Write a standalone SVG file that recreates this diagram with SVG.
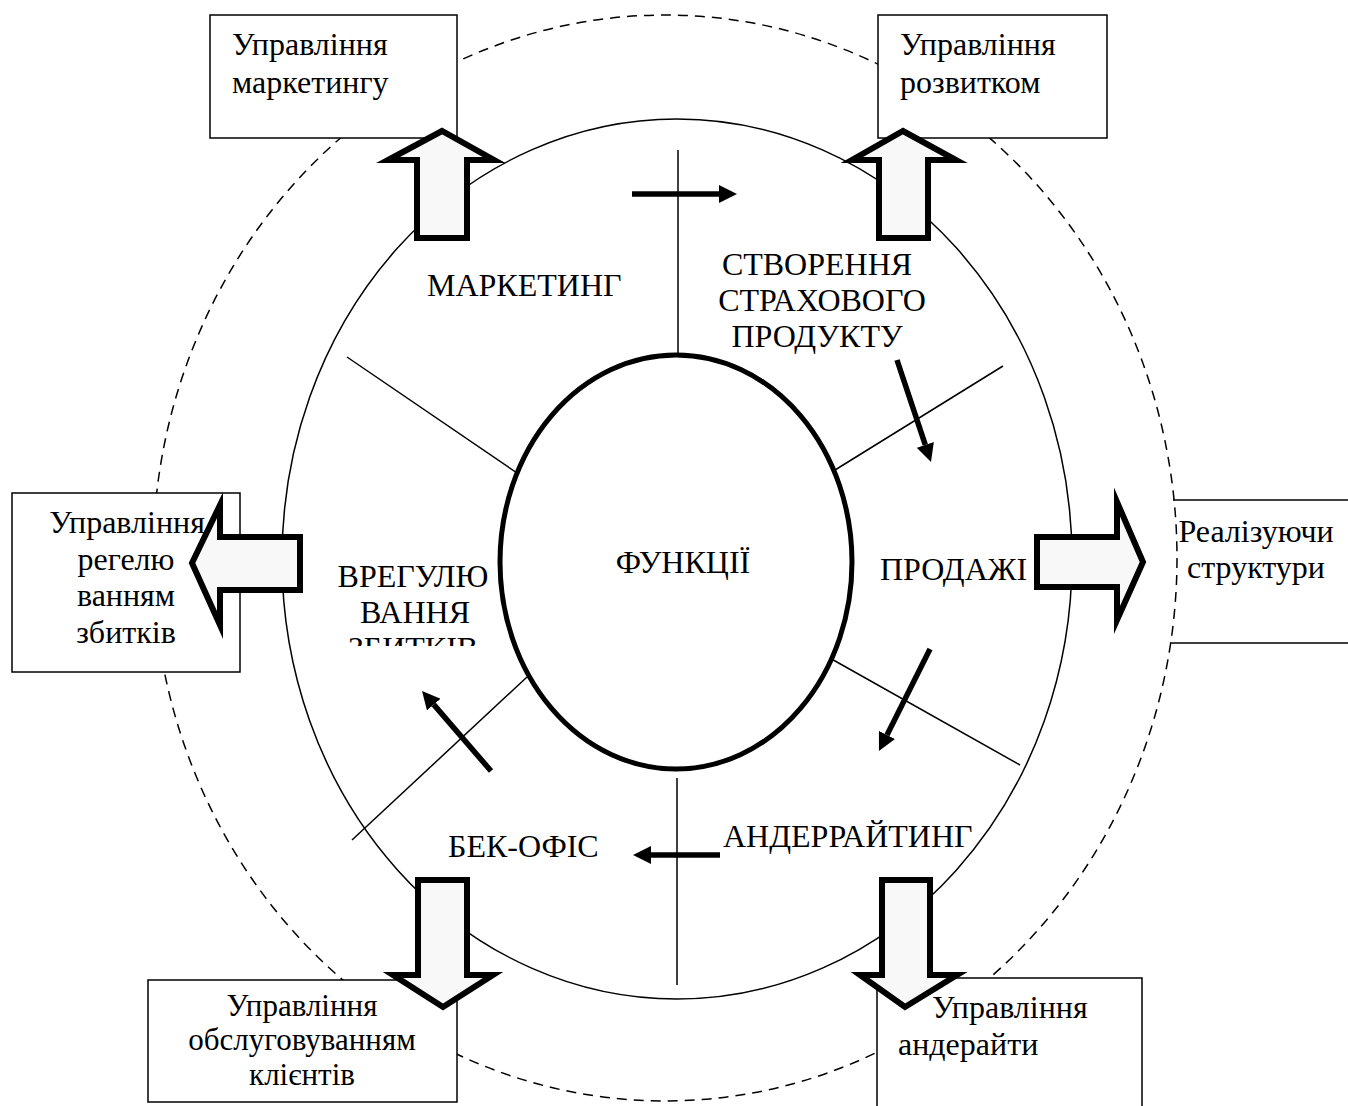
<svg xmlns="http://www.w3.org/2000/svg" width="1348" height="1106" viewBox="0 0 1348 1106">
<style>
text{font-family:"Liberation Serif","Times New Roman",serif;font-size:32px;fill:#000}
.c{text-anchor:middle}
.box{fill:#fff;stroke:#000;stroke-width:1.5}
.blk{fill:#f8f8f8;stroke:#000;stroke-width:6;stroke-linejoin:miter;stroke-miterlimit:10}
.rad{stroke:#000;stroke-width:1.5;fill:none}
.sa{stroke:#000;stroke-width:5.5;fill:none;marker-end:url(#ah)}
</style>
<defs>
<marker id="ah" markerUnits="userSpaceOnUse" markerWidth="18" markerHeight="18" viewBox="0 0 18 18" refX="0" refY="9" orient="auto">
<path d="M0,0 L18,9 L0,18 Z" fill="#000"/>
</marker>
<clipPath id="clipV"><rect x="300" y="540" width="220" height="106"/></clipPath>
</defs>
<rect width="1348" height="1106" fill="#fff"/>
<g id="outer-ring"><ellipse cx="665" cy="558" rx="512" ry="543" fill="none" stroke="#000" stroke-width="1.5" stroke-dasharray="10,7"/></g>
<g id="inner-ring"><ellipse cx="677" cy="559" rx="395" ry="440" fill="none" stroke="#000" stroke-width="1.5"/></g>
<g id="connectors">
<line class="rad" x1="678" y1="150" x2="678" y2="355"/>
<line class="rad" x1="347" y1="357" x2="520" y2="475"/>
<line class="rad" x1="1003" y1="366" x2="835" y2="470"/>
<line class="rad" x1="828" y1="657" x2="1020" y2="765"/>
<line class="rad" x1="352" y1="840" x2="527" y2="677"/>
<line class="rad" x1="677" y1="778" x2="677" y2="985"/>
<line class="sa" x1="632" y1="194" x2="719" y2="194"/>
<line class="sa" x1="897" y1="360" x2="925.3" y2="444.9"/>
<line class="sa" x1="930" y1="649" x2="887" y2="734.9"/>
<line class="sa" x1="491" y1="771" x2="433.8" y2="704.6"/>
<line class="sa" x1="720" y1="855" x2="651" y2="855"/>
</g>
<g id="functions"><ellipse cx="676" cy="562" rx="176" ry="207" fill="#fff" stroke="#000" stroke-width="5"/><text class="c" x="683" y="573">ФУНКЦІЇ</text></g>
<g id="marketing"><text x="427" y="296">МАРКЕТИНГ</text></g>
<g id="product"><text class="c" x="817" y="275">СТВОРЕННЯ</text><text class="c" x="822" y="311">СТРАХОВОГО</text><text class="c" x="817" y="347">ПРОДУКТУ</text></g>
<g id="sales"><text x="880" y="580">ПРОДАЖІ</text></g>
<g id="settlement"><g clip-path="url(#clipV)"><text class="c" x="413" y="587">ВРЕГУЛЮ</text><text class="c" x="415" y="623">ВАННЯ</text><text class="c" x="413" y="659">ЗБИТКІВ</text></g></g>
<g id="backoffice"><text x="448" y="857">БЕК-ОФІС</text></g>
<g id="underwriting"><text x="723" y="847">АНДЕРРАЙТИНГ</text></g>
<g id="box-marketing"><rect class="box" x="210" y="15" width="247" height="123"/><text x="232" y="55">Управління</text><text x="232" y="93">маркетингу</text></g>
<g id="box-development"><rect class="box" x="878" y="15" width="229" height="123"/><text x="900" y="55">Управління</text><text x="900" y="93">розвитком</text></g>
<g id="box-claims"><rect class="box" x="12" y="493" width="228" height="179"/><text class="c" x="127" y="533">Управління</text><text class="c" x="126" y="570">регелю</text><text class="c" x="126" y="606">ванням</text><text class="c" x="126" y="643">збитків</text></g>
<g id="box-sales-structures"><line x1="1173" y1="500" x2="1348" y2="500" stroke="#000" stroke-width="1.5"/><line x1="1170" y1="643" x2="1348" y2="643" stroke="#000" stroke-width="1.5"/><text class="c" x="1256" y="542">Реалізуючи</text><text class="c" x="1256" y="578">структури</text></g>
<g id="box-clients"><rect class="box" x="148" y="980" width="309" height="122"/><text class="c" x="302" y="1016" style="font-size:31px">Управління</text><text class="c" x="302" y="1050" style="font-size:31px">обслуговуванням</text><text class="c" x="302" y="1085" style="font-size:31px">клієнтів</text></g>
<g id="box-underwriting"><path class="box" d="M877,1110 L877,978 L1142,978 L1142,1110"/><text x="932" y="1018">Управління</text><text x="898" y="1055">андерайти</text></g>
<g id="block-arrows">
<path class="blk" d="M417,238 L417,160 L388,160 L442,131 L494,160 L467,160 L467,238 Z"/>
<path class="blk" d="M879,238 L879,160 L852,160 L903,131 L956,160 L928,160 L928,238 Z"/>
<path class="blk" d="M300,537 L220,537 L220,505 L192,563 L220,625 L220,590 L300,590 Z"/>
<path class="blk" d="M1037,537 L1117,537 L1117,502 L1143,562 L1117,620 L1117,587 L1037,587 Z"/>
<path class="blk" d="M418,880 L467,880 L467,975 L493,975 L443,1007 L393,975 L418,975 Z"/>
<path class="blk" d="M882,880 L930,880 L930,975 L957,975 L905,1007 L860,975 L882,975 Z"/>
</g>
</svg>
